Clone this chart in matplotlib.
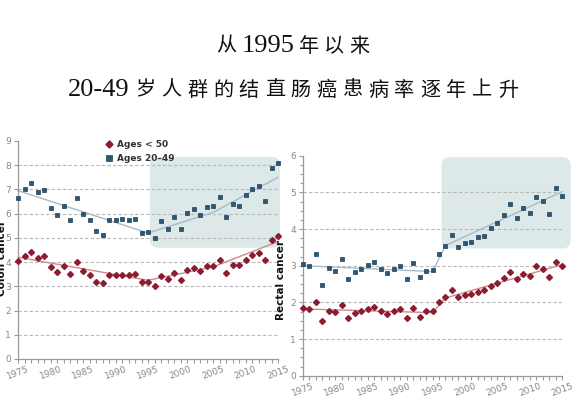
import numpy as np
import matplotlib
matplotlib.use("Agg")
import matplotlib.pyplot as plt
from matplotlib.patches import FancyBboxPatch

## Donnees

years = np.arange(1975, 2016)

colon_2049 = [6.66, 7.02, 7.27, 6.88, 6.98, 6.25, 5.96, 6.32, 5.75, 6.66,
              5.97, 5.73, 5.27, 5.12, 5.75, 5.75, 5.79, 5.75, 5.77, 5.21,
              5.25, 5.01, 5.68, 5.38, 5.88, 5.35, 6.01, 6.18, 5.96, 6.28,
              6.30, 6.70, 5.88, 6.41, 6.33, 6.77, 7.03, 7.16, 6.54, 7.90, 8.09]
colon_u50 = [4.05, 4.27, 4.43, 4.18, 4.25, 3.81, 3.59, 3.84, 3.51, 4.02,
             3.62, 3.48, 3.19, 3.14, 3.48, 3.48, 3.48, 3.48, 3.51, 3.17,
             3.19, 3.01, 3.44, 3.29, 3.56, 3.25, 3.67, 3.76, 3.62, 3.83,
             3.83, 4.07, 3.56, 3.89, 3.87, 4.10, 4.28, 4.39, 4.07, 4.93, 5.08]

rectal_2049 = [3.05, 2.99, 3.32, 2.48, 2.94, 2.86, 3.18, 2.64, 2.84, 2.90,
               3.03, 3.11, 2.92, 2.79, 2.92, 2.98, 2.63, 3.07, 2.69, 2.86,
               2.87, 3.32, 3.55, 3.83, 3.51, 3.63, 3.65, 3.77, 3.81, 4.02,
               4.16, 4.39, 4.67, 4.31, 4.57, 4.45, 4.88, 4.76, 4.41, 5.13, 4.91]
rectal_u50 = [1.85, 1.81, 2.00, 1.50, 1.76, 1.75, 1.93, 1.58, 1.72, 1.76,
              1.81, 1.88, 1.76, 1.68, 1.77, 1.81, 1.57, 1.85, 1.61, 1.76,
              1.76, 2.00, 2.15, 2.35, 2.15, 2.20, 2.24, 2.29, 2.33, 2.45,
              2.53, 2.66, 2.84, 2.63, 2.78, 2.71, 2.98, 2.90, 2.69, 3.11, 3.00]

# tendances (joinpoint)
colon_knots = [1975, 1995, 2005, 2015]
colon_2049_trend = [6.95, 5.20, 6.05, 7.50]
colon_u50_trend = [4.20, 3.25, 3.80, 4.85]
rectal_knots = [1975, 1995, 1997, 2015]
rectal_2049_trend = [3.00, 2.84, 3.55, 5.02]
rectal_u50_trend = [1.82, 1.72, 2.12, 3.03]

# zones surlignees (annee debut, annee fin, bas, haut)
colon_zone = [1995.3, 2015.3, 4.59, 8.35]
rectal_zone = [1996.4, 2016.3, 3.47, 5.96]

labels = ["Ages < 50", "Ages 20\u201349"]

## Styles

RED = "#8c1c2e"
BLUE = "#2b5876"
RED_LINE = "#d08890"
BLUE_LINE = "#a6bcc8"
ZONE = "#d6e6e4"
GRIDC = "#b8b8b8"
TICKC = "#888888"

W, H = 586, 396
fig = plt.figure(figsize=(W / 100, H / 100), dpi=100)
fig.patch.set_facecolor("white")

ax1 = fig.add_axes([18 / W, (H - 359) / H, 260 / W, 218 / H])
ax2 = fig.add_axes([302.7 / W, (H - 375.7) / H, 259.6 / W, 220 / H])


def style_axes(ax, ymax, grid_vals):
    ax.set_xlim(1975, 2015)
    ax.set_ylim(0, ymax)
    for s in ["top", "right"]:
        ax.spines[s].set_visible(False)
    for s in ["left", "bottom"]:
        ax.spines[s].set_color("#9a9a9a")
        ax.spines[s].set_linewidth(0.9)
    ax.set_xticks(np.arange(1975, 2016, 5))
    ax.set_xticks(np.arange(1975, 2016, 1), minor=True)
    ax.set_yticks(np.arange(0, ymax + 1, 1))
    ax.tick_params(axis="both", which="both", colors="#9a9a9a", labelcolor=TICKC,
                   labelsize=6.5, length=3, width=0.8)
    ax.tick_params(axis="x", which="both", pad=1)
    ax.tick_params(axis="y", which="both", pad=2)
    for lab in ax.get_xticklabels():
        lab.set_rotation(20)
        lab.set_ha("center")
    for g in grid_vals:
        ax.axhline(g, color=GRIDC, lw=0.8, ls=(0, (3, 2)), zorder=0.5)
    ax.set_facecolor("none")


def zone(ax, z, asp):
    p = FancyBboxPatch((z[0], z[2]), z[1] - z[0], z[3] - z[2],
                       boxstyle="round,pad=0,rounding_size=1.3",
                       mutation_aspect=asp, facecolor=ZONE, edgecolor="none",
                       alpha=0.85, zorder=0.2, clip_on=False)
    ax.add_patch(p)


style_axes(ax1, 9, range(1, 9))
style_axes(ax2, 6, range(1, 6))
ax2.set_yticks(np.arange(0, 6.01, 0.25), minor=True)
ax2.tick_params(axis="y", which="minor", length=2)

zone(ax1, colon_zone, 6.5 / 24.2)
zone(ax2, rectal_zone, 6.49 / 36.67)

## Traces

for ax, kn, tb, tr, b, r in [
        (ax1, colon_knots, colon_2049_trend, colon_u50_trend, colon_2049, colon_u50),
        (ax2, rectal_knots, rectal_2049_trend, rectal_u50_trend, rectal_2049, rectal_u50)]:
    ax.plot(kn, tb, color=BLUE_LINE, lw=1.0, zorder=2, clip_on=False)
    ax.plot(kn, tr, color=RED_LINE, lw=1.0, zorder=2, clip_on=False)
    ax.plot(years, r, ls="none", marker="D", ms=3.0, color=RED, mec=RED,
            zorder=3, clip_on=False, label=labels[0])
    ax.plot(years, b, ls="none", marker="s", ms=3.5, color=BLUE, mec="#1d3f57",
            mew=0.5, zorder=3, clip_on=False, label=labels[1])

leg = ax1.legend(loc="upper left", bbox_to_anchor=(0.3, 1.04), frameon=False,
                 handletextpad=0.4, labelspacing=0.5, handlelength=1.0,
                 markerscale=1.2,
                 prop={"family": "DejaVu Sans", "weight": "bold", "size": 6.5})
for t in leg.get_texts():
    t.set_color("#333333")

fig.text(2 / W, 1 - 258 / H, "Colon cancer", rotation=90, ha="center", va="center",
         fontsize=7.5, fontweight="bold", color="#111111")
fig.text(281 / W, 1 - 280 / H, "Rectal cancer", rotation=90, ha="center", va="center",
         fontsize=7.5, fontweight="bold", color="#111111")

## Titre avec espacement des caracteres

renderer = fig.canvas.get_renderer()


def spaced_line(y, parts, gap, cx=293):
    items = []
    for s, serif in parts:
        chunks = [s] if serif else list(s)
        for c in chunks:
            if serif:
                t = fig.text(0, 1 - y / H, c, family="Liberation Serif", fontsize=19,
                             va="center", ha="left", color="#111111")
            else:
                t = fig.text(0, 1 - y / H, c, family=["Noto Sans CJK SC", "DejaVu Sans"],
                             fontsize=14.5, va="center", ha="left", color="#111111")
            items.append((t, t.get_window_extent(renderer).width))
    total = sum(w for _, w in items) + gap * (len(items) - 1)
    x = cx - total / 2
    for t, w in items:
        t.set_x(x / W)
        x += w + gap


spaced_line(46, [("从", False), ("1995", True), ("年以来", False)], 5.0)
spaced_line(90, [("20-49", True), ("岁人群的结直肠癌患病率逐年上升", False)], 5.8)

fig.savefig("out.png", dpi=100, facecolor="white")
